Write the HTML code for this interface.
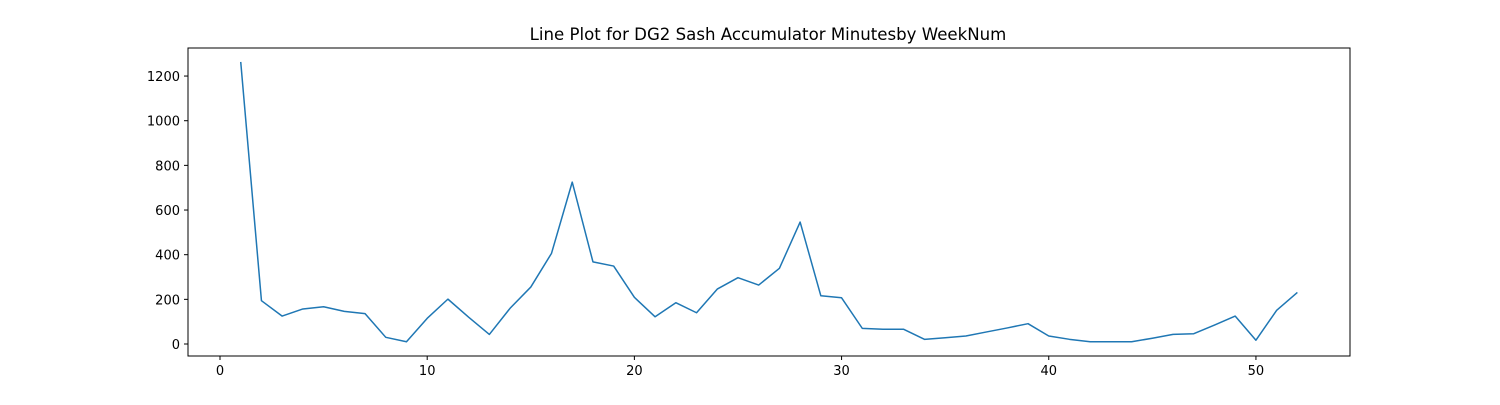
<!DOCTYPE html>
<html><head><meta charset="utf-8"><style>
body{margin:0;background:#fff;}
svg text{font-family:"DejaVu Sans","Liberation Sans",sans-serif;font-size:13px;fill:#000;}
</style></head><body>
<svg id="chart" width="1500" height="400" xmlns="http://www.w3.org/2000/svg">
<text x="768" y="40" text-anchor="middle" style="font-size:16.6px">Line Plot for DG2 Sash Accumulator Minutesby WeekNum</text>
<g id="ticks"></g>
<polyline id="line" fill="none" stroke="#1f77b4" stroke-width="1.5" stroke-linejoin="round"/>
<rect x="188" y="48" width="1162" height="308" fill="none" stroke="#000" stroke-width="1"/>
</svg>
<script>
const weeks = [1,2,3,4,5,6,7,8,9,10,11,12,13,14,15,16,17,18,19,20,21,22,23,24,25,26,27,28,29,30,31,32,33,34,35,36,37,38,39,40,41,42,43,44,45,46,47,48,49,50,51,52];
const minutes = [1263,194,125,157,167,146,136,30,10,115,201,120,43,160,255,406,725,368,349,209,122,185,140,246,297,264,339,546,216,207,70,66,66,21,28,36,54,72,91,36,21,10,10,10,26,43,46,85,125,17,151,231];
const xTicks = [0,10,20,30,40,50];
const yTicks = [0,200,400,600,800,1000,1200];
const L=188,R=1350,T=48,B=356;
const xMin=-1.545,xMax=54.54,yMin=-53.7,yMax=1325.6;
const sx=v=>L+(v-xMin)/(xMax-xMin)*(R-L);
const sy=v=>B-(v-yMin)/(yMax-yMin)*(B-T);
const NS='http://www.w3.org/2000/svg';
const g=document.getElementById('ticks');
xTicks.forEach(t=>{
  const x=sx(t);
  const l=document.createElementNS(NS,'line');
  l.setAttribute('x1',x);l.setAttribute('x2',x);l.setAttribute('y1',B);l.setAttribute('y2',B+4);l.setAttribute('stroke','#000');
  
  
  g.appendChild(l);
  const tx=document.createElementNS(NS,'text');
  tx.setAttribute('x',x);tx.setAttribute('y',B+19);tx.setAttribute('text-anchor','middle');tx.textContent=t;
  
  
  g.appendChild(tx);
});
yTicks.forEach(t=>{
  const y=sy(t);
  const l=document.createElementNS(NS,'line');
  l.setAttribute('x1',L-4);l.setAttribute('x2',L);l.setAttribute('y1',y);l.setAttribute('y2',y);l.setAttribute('stroke','#000');
  
  
  g.appendChild(l);
  const tx=document.createElementNS(NS,'text');
  tx.setAttribute('x',L-8);tx.setAttribute('y',y+5);tx.setAttribute('text-anchor','end');tx.textContent=t;
  
  
  g.appendChild(tx);
});
document.getElementById('line').setAttribute('points',weeks.map((w,i)=>sx(w)+','+sy(minutes[i])).join(' '));
</script>
</body></html>
